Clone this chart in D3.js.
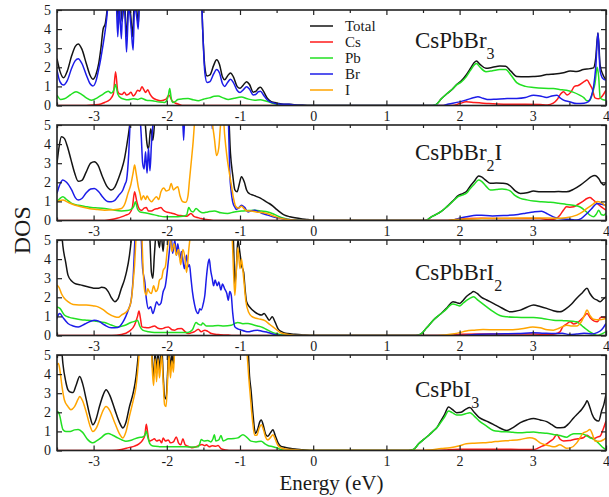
<!DOCTYPE html>
<html>
<head>
<meta charset="utf-8">
<script src="https://cdn.jsdelivr.net/npm/d3@7"></script>
<style>
  html, body { margin: 0; padding: 0; background: #fff; }
  svg { display: block; }
  text { font-family: "Liberation Serif", "Times New Roman", serif; fill: #1a1a1a; }
</style>
</head>
<body>
<svg id="chart" width="609" height="497"></svg>
<script>
// Projected density of states, energy in eV (VBM at 0), four halide compositions.

const xTicks = [-3, -2, -1, 0, 1, 2, 3, 4];
const xMinorTicks = [-3.5, -2.5, -1.5, -0.5, 0.5, 1.5, 2.5, 3.5];
const yTicks = [0, 1, 2, 3, 4, 5];
const seriesNames = ["Total", "Cs", "Pb", "Br", "I"];
const panelNames = ["CsPbBr3", "CsPbBr2I", "CsPbBrI2", "CsPbI3"];

// ---- CsPbBr3 ----
const br3Total = [[-3.5,2.45],[-3.46,1.8],[-3.41,1.45],[-3.36,1.8],[-3.30,2.6],[-3.25,3.1],[-3.21,3.22],[-3.16,2.95],[-3.10,2.2],[-3.05,1.6],[-3.01,1.38],[-2.97,1.6],[-2.93,2.2],[-2.90,3.0],[-2.87,4.0],[-2.84,4.3],[-2.81,5.2],[-2.78,6.5],[-2.72,7],[-2.68,6],[-2.66,4.2],[-2.64,5.6],[-2.61,4.4],[-2.58,5.6],[-2.55,3.6],[-2.52,5.5],[-2.49,4.6],[-2.47,3.6],[-2.44,5.6],[-2.41,5.0],[-2.39,4.2],[-2.37,6],[-2.3,7],[-1.6,7],[-1.53,6],[-1.51,4],[-1.48,2.0],[-1.45,1.55],[-1.41,1.6],[-1.36,2.1],[-1.32,2.4],[-1.28,2.15],[-1.24,1.5],[-1.21,1.35],[-1.17,1.55],[-1.13,1.7],[-1.09,1.5],[-1.04,1.0],[-1.0,0.9],[-0.96,1.05],[-0.91,1.25],[-0.87,1.1],[-0.82,0.7],[-0.78,0.75],[-0.75,0.9],[-0.72,0.95],[-0.68,0.75],[-0.63,0.4],[-0.58,0.22],[-0.53,0.16],[-0.47,0.1],[-0.40,0.07],[-0.33,0.07],[-0.25,0.04],[-0.15,0.02],[-0.05,0],[1.6,0],[1.67,0.03],[1.75,0.35],[1.83,0.63],[1.9,0.85],[1.96,1.1],[2.02,1.28],[2.09,1.6],[2.15,1.95],[2.2,2.25],[2.23,2.33],[2.28,2.15],[2.36,1.95],[2.45,2.0],[2.55,2.07],[2.63,2.05],[2.7,1.8],[2.78,1.52],[2.9,1.5],[3.01,1.52],[3.1,1.55],[3.19,1.62],[3.3,1.65],[3.42,1.72],[3.51,1.8],[3.6,1.78],[3.69,1.88],[3.78,1.93],[3.83,1.97],[3.86,2.5],[3.89,3.8],[3.92,2.1],[3.96,1.6],[4.0,1.35]];
const br3Cs = [[-3.5,0],[-3.1,0],[-3.0,0.03],[-2.9,0.08],[-2.85,0.16],[-2.78,0.3],[-2.73,0.6],[-2.70,1.77],[-2.67,0.75],[-2.64,0.6],[-2.61,0.58],[-2.58,0.7],[-2.55,0.55],[-2.52,0.6],[-2.49,0.7],[-2.46,0.5],[-2.43,0.6],[-2.40,0.8],[-2.37,0.75],[-2.34,0.98],[-2.31,0.8],[-2.29,0.68],[-2.26,0.82],[-2.23,0.6],[-2.19,0.4],[-2.14,0.3],[-2.08,0.25],[-2.01,0.33],[-1.97,0.55],[-1.93,0.25],[-1.88,0.12],[-1.83,0.06],[-1.78,0],[1.9,0],[2.0,0.1],[2.09,0.19],[2.2,0.16],[2.27,0.14],[2.4,0.1],[2.6,0.07],[2.9,0.07],[3.1,0.05],[3.2,0.03],[3.28,0.12],[3.33,0.3],[3.38,0.6],[3.42,0.72],[3.47,0.55],[3.52,0.7],[3.57,1.0],[3.62,1.05],[3.7,1.25],[3.74,1.33],[3.78,1.1],[3.81,0.89],[3.85,0.4],[3.9,0.35],[3.95,0.5],[4.0,0.8]];
const br3Pb = [[-3.5,0.55],[-3.45,0.32],[-3.4,0.35],[-3.32,0.55],[-3.24,0.72],[-3.17,0.6],[-3.1,0.4],[-3.03,0.28],[-2.95,0.4],[-2.87,0.6],[-2.80,0.75],[-2.76,0.65],[-2.72,0.85],[-2.70,1.1],[-2.67,0.6],[-2.63,0.4],[-2.58,0.33],[-2.53,0.3],[-2.46,0.35],[-2.40,0.32],[-2.35,0.38],[-2.28,0.28],[-2.2,0.25],[-2.1,0.18],[-2.03,0.16],[-1.98,0.5],[-1.96,0.89],[-1.94,0.4],[-1.92,0.16],[-1.88,0.22],[-1.85,0.31],[-1.78,0.35],[-1.71,0.37],[-1.64,0.3],[-1.57,0.25],[-1.5,0.33],[-1.42,0.4],[-1.35,0.48],[-1.30,0.5],[-1.23,0.4],[-1.16,0.31],[-1.08,0.38],[-0.98,0.44],[-0.9,0.35],[-0.8,0.28],[-0.72,0.3],[-0.66,0.25],[-0.58,0.15],[-0.53,0.09],[-0.45,0.03],[-0.38,0],[1.6,0],[1.67,0.03],[1.75,0.35],[1.83,0.63],[1.9,0.85],[1.96,1.08],[2.02,1.22],[2.09,1.5],[2.15,1.85],[2.2,2.12],[2.23,2.2],[2.28,2.0],[2.36,1.77],[2.45,1.82],[2.55,1.89],[2.63,1.88],[2.7,1.6],[2.78,1.2],[2.9,1.0],[3.01,0.94],[3.15,0.9],[3.28,0.89],[3.4,0.82],[3.46,0.8],[3.55,0.7],[3.64,0.54],[3.7,0.4],[3.74,0.25],[3.78,0.28],[3.82,0.7],[3.85,1.16],[3.88,2.0],[3.90,1.5],[3.92,0.4],[3.96,0.3],[4.0,0.28]];
const br3Br = [[-3.5,1.85],[-3.46,1.25],[-3.41,1.07],[-3.36,1.3],[-3.30,1.95],[-3.25,2.35],[-3.21,2.45],[-3.16,2.2],[-3.10,1.6],[-3.05,1.15],[-3.01,1.02],[-2.97,1.25],[-2.93,1.9],[-2.90,2.5],[-2.87,3.2],[-2.85,3.7],[-2.82,4.6],[-2.80,5.5],[-2.76,7],[-2.70,6.5],[-2.67,3.6],[-2.65,5.2],[-2.62,3.5],[-2.60,5.5],[-2.57,4.6],[-2.55,2.8],[-2.52,5.2],[-2.49,4.2],[-2.46,2.9],[-2.44,5.2],[-2.41,4.6],[-2.39,4.0],[-2.37,6],[-2.3,7],[-1.6,7],[-1.53,6],[-1.51,4],[-1.48,1.7],[-1.45,1.2],[-1.41,1.25],[-1.36,1.65],[-1.32,1.88],[-1.28,1.7],[-1.24,1.15],[-1.21,1.0],[-1.17,1.2],[-1.13,1.38],[-1.09,1.2],[-1.04,0.8],[-1.0,0.68],[-0.96,0.8],[-0.91,0.98],[-0.87,0.85],[-0.82,0.55],[-0.78,0.6],[-0.75,0.72],[-0.72,0.75],[-0.68,0.55],[-0.63,0.3],[-0.58,0.18],[-0.53,0.12],[-0.47,0.08],[-0.40,0.06],[-0.33,0.06],[-0.25,0.03],[-0.15,0.01],[-0.05,0],[1.75,0],[1.85,0.08],[2.0,0.19],[2.1,0.3],[2.2,0.42],[2.25,0.46],[2.32,0.38],[2.4,0.31],[2.5,0.33],[2.65,0.36],[2.78,0.37],[2.9,0.42],[3.01,0.54],[3.1,0.5],[3.19,0.42],[3.26,0.5],[3.33,0.54],[3.38,0.38],[3.42,0.28],[3.5,0.2],[3.6,0.1],[3.7,0.12],[3.76,0.2],[3.8,0.5],[3.83,0.98],[3.86,2.0],[3.89,3.79],[3.92,1.8],[3.96,1.4],[4.0,1.33]];

// ---- CsPbBr2I ----
const br2iTotal = [[-3.5,3.0],[-3.47,3.9],[-3.44,4.39],[-3.40,4.3],[-3.36,3.9],[-3.31,3.2],[-3.26,2.5],[-3.21,2.05],[-3.16,2.1],[-3.10,2.55],[-3.04,3.0],[-2.99,3.08],[-2.94,2.9],[-2.88,2.3],[-2.82,1.8],[-2.76,1.6],[-2.71,1.75],[-2.66,2.2],[-2.62,2.64],[-2.58,3.2],[-2.55,3.86],[-2.51,4.9],[-2.48,6],[-2.40,7],[-2.33,6],[-2.30,5.3],[-2.27,4.0],[-2.25,3.75],[-2.22,4.8],[-2.19,4.2],[-2.16,5.5],[-2.1,7],[-1.2,7],[-1.16,6],[-1.13,3.5],[-1.10,2.4],[-1.07,1.6],[-1.04,1.5],[-1.01,1.9],[-0.98,2.29],[-0.94,2.0],[-0.91,1.6],[-0.87,1.4],[-0.82,1.33],[-0.77,1.25],[-0.71,1.15],[-0.65,1.0],[-0.60,0.89],[-0.55,0.75],[-0.50,0.58],[-0.44,0.4],[-0.39,0.28],[-0.32,0.2],[-0.25,0.14],[-0.15,0.08],[-0.07,0.05],[0.0,0],[1.5,0],[1.55,0.02],[1.6,0.15],[1.67,0.3],[1.74,0.45],[1.82,0.7],[1.92,1.07],[1.98,1.3],[2.05,1.42],[2.1,1.55],[2.14,1.77],[2.2,2.05],[2.26,2.33],[2.30,2.28],[2.36,2.1],[2.42,1.95],[2.5,1.96],[2.58,1.95],[2.64,1.93],[2.69,1.82],[2.76,1.55],[2.83,1.42],[2.92,1.45],[3.01,1.54],[3.1,1.5],[3.24,1.5],[3.35,1.52],[3.46,1.5],[3.56,1.64],[3.65,1.85],[3.74,2.12],[3.8,2.3],[3.85,2.35],[3.9,2.2],[3.94,1.95],[3.97,1.86],[4.0,2.0]];
const br2iCs = [[-3.5,0],[-2.85,0],[-2.76,0.05],[-2.68,0.12],[-2.62,0.19],[-2.56,0.28],[-2.51,0.37],[-2.47,0.7],[-2.44,1.5],[-2.41,1.0],[-2.39,0.72],[-2.36,0.55],[-2.34,0.54],[-2.31,0.65],[-2.28,0.68],[-2.25,0.5],[-2.21,0.5],[-2.17,0.58],[-2.12,0.63],[-2.08,0.68],[-2.05,0.55],[-2.01,0.45],[-1.95,0.4],[-1.90,0.35],[-1.85,0.28],[-1.79,0.25],[-1.73,0.22],[-1.67,0.37],[-1.63,0.22],[-1.58,0.16],[-1.53,0.1],[-1.46,0.05],[-1.40,0.02],[-1.35,0],[1.8,0],[1.95,0.05],[2.1,0.1],[2.3,0.12],[2.6,0.1],[2.9,0.1],[3.1,0.1],[3.2,0.05],[3.28,0.06],[3.37,0.28],[3.42,0.55],[3.46,0.72],[3.51,0.7],[3.56,0.72],[3.62,0.85],[3.69,1.02],[3.74,1.15],[3.78,1.2],[3.82,1.1],[3.88,0.89],[3.94,0.7],[4.0,0.54]];
const br2iPb = [[-3.5,0.98],[-3.46,1.15],[-3.42,1.24],[-3.37,1.1],[-3.30,0.9],[-3.21,0.8],[-3.12,0.74],[-3.03,0.68],[-2.94,0.66],[-2.85,0.63],[-2.74,0.56],[-2.62,0.5],[-2.54,0.52],[-2.49,0.58],[-2.45,0.75],[-2.43,0.98],[-2.40,0.6],[-2.37,0.45],[-2.30,0.4],[-2.21,0.33],[-2.12,0.25],[-2.03,0.19],[-1.94,0.2],[-1.85,0.2],[-1.78,0.22],[-1.73,0.28],[-1.70,0.68],[-1.67,0.5],[-1.64,0.45],[-1.60,0.63],[-1.56,0.5],[-1.51,0.4],[-1.44,0.45],[-1.35,0.5],[-1.26,0.4],[-1.17,0.37],[-1.08,0.45],[-0.98,0.5],[-0.89,0.52],[-0.80,0.54],[-0.71,0.5],[-0.62,0.45],[-0.55,0.35],[-0.48,0.23],[-0.40,0.12],[-0.35,0.07],[-0.25,0.02],[-0.15,0],[1.5,0],[1.55,0.02],[1.6,0.15],[1.67,0.3],[1.74,0.45],[1.82,0.7],[1.92,1.05],[1.98,1.25],[2.05,1.35],[2.1,1.45],[2.14,1.65],[2.2,1.9],[2.26,2.12],[2.30,2.05],[2.36,1.8],[2.42,1.6],[2.5,1.62],[2.58,1.65],[2.64,1.62],[2.69,1.55],[2.76,1.3],[2.83,1.16],[2.92,1.08],[3.01,1.02],[3.12,0.98],[3.24,0.95],[3.35,0.9],[3.46,0.84],[3.55,0.8],[3.64,0.72],[3.72,0.5],[3.78,0.28],[3.83,0.19],[3.87,0.35],[3.90,0.54],[3.94,0.3],[3.97,0.28],[4.0,0.4]];
const br2iBr = [[-3.5,1.42],[-3.46,1.9],[-3.42,2.12],[-3.37,2.0],[-3.30,1.6],[-3.25,1.2],[-3.21,1.07],[-3.16,1.15],[-3.10,1.45],[-3.04,1.65],[-2.99,1.68],[-2.93,1.5],[-2.87,1.2],[-2.81,1.0],[-2.76,0.98],[-2.71,1.05],[-2.66,1.3],[-2.60,1.6],[-2.57,1.9],[-2.55,2.12],[-2.52,3.5],[-2.50,5.2],[-2.45,7],[-2.38,6],[-2.35,4.5],[-2.33,3.0],[-2.31,2.7],[-2.29,3.6],[-2.27,2.47],[-2.25,3.8],[-2.23,2.6],[-2.21,4.0],[-2.18,5.5],[-2.15,7],[-1.80,7],[-1.77,4.2],[-1.74,7],[-1.40,7],[-1.38,4.8],[-1.36,6],[-1.3,7],[-1.18,7],[-1.16,5.5],[-1.14,2.5],[-1.12,1.5],[-1.10,0.98],[-1.07,0.7],[-1.05,0.58],[-1.02,0.65],[-0.98,0.8],[-0.94,0.7],[-0.89,0.45],[-0.85,0.5],[-0.80,0.54],[-0.74,0.45],[-0.68,0.35],[-0.62,0.28],[-0.55,0.2],[-0.48,0.14],[-0.40,0.08],[-0.33,0.05],[-0.22,0.01],[-0.15,0],[1.85,0],[1.92,0.03],[2.0,0.12],[2.1,0.2],[2.23,0.28],[2.3,0.27],[2.45,0.24],[2.6,0.26],[2.8,0.32],[2.9,0.38],[3.01,0.45],[3.12,0.49],[3.2,0.35],[3.28,0.19],[3.36,0.1],[3.46,0.07],[3.55,0.04],[3.6,0.02],[3.66,0.1],[3.74,0.37],[3.8,0.6],[3.88,0.89],[3.94,0.85],[4.0,0.8]];
const br2iI = [[-3.5,0.98],[-3.46,1.05],[-3.42,1.07],[-3.35,0.95],[-3.25,0.8],[-3.17,0.72],[-3.05,0.62],[-2.95,0.58],[-2.85,0.54],[-2.74,0.56],[-2.62,0.63],[-2.57,0.9],[-2.53,1.42],[-2.49,1.9],[-2.46,2.5],[-2.44,2.9],[-2.42,2.5],[-2.39,1.77],[-2.36,1.3],[-2.35,1.07],[-2.32,1.3],[-2.29,1.1],[-2.27,1.28],[-2.24,1.1],[-2.21,0.98],[-2.18,1.1],[-2.14,1.25],[-2.11,1.1],[-2.08,1.5],[-2.04,1.7],[-2.01,1.55],[-1.97,1.6],[-1.94,1.94],[-1.91,1.6],[-1.88,1.7],[-1.85,1.77],[-1.82,1.3],[-1.78,0.98],[-1.74,0.95],[-1.71,1.3],[-1.69,2.12],[-1.66,3.3],[-1.64,4.13],[-1.62,5.2],[-1.58,7],[-1.42,7],[-1.38,5.2],[-1.35,4.3],[-1.32,3.4],[-1.29,3.8],[-1.26,5.2],[-1.23,5.5],[-1.21,4.5],[-1.18,3.4],[-1.15,2.6],[-1.12,1.9],[-1.09,1.2],[-1.06,0.75],[-1.02,0.65],[-0.98,0.75],[-0.94,0.6],[-0.90,0.5],[-0.85,0.5],[-0.78,0.45],[-0.70,0.42],[-0.62,0.35],[-0.55,0.25],[-0.48,0.15],[-0.40,0.08],[-0.30,0.03],[-0.2,0],[1.8,0],[1.95,0.05],[2.1,0.08],[2.3,0.1],[2.6,0.12],[2.9,0.13],[3.1,0.13],[3.3,0.12],[3.45,0.15],[3.6,0.28],[3.68,0.45],[3.74,0.63],[3.82,0.85],[3.88,1.0],[3.93,0.95],[4.0,0.75]];

// ---- CsPbBrI2 ----
const bri2Total = [[-3.5,7],[-3.45,6],[-3.42,4.7],[-3.38,3.8],[-3.35,3.16],[-3.30,2.85],[-3.26,2.73],[-3.18,2.65],[-3.08,2.55],[-3.0,2.48],[-2.94,2.47],[-2.89,2.52],[-2.85,2.5],[-2.80,2.3],[-2.76,2.0],[-2.71,1.77],[-2.67,1.9],[-2.62,2.47],[-2.58,2.9],[-2.55,3.34],[-2.51,4.2],[-2.48,5.2],[-2.44,7],[-2.26,7],[-2.23,5],[-2.21,3.3],[-2.19,3.0],[-2.17,4.2],[-2.14,5.5],[-2.10,4.6],[-2.08,5.4],[-2.05,4.4],[-2.03,5.5],[-2.0,7],[-1.12,7],[-1.09,5],[-1.07,2.7],[-1.05,3.5],[-1.03,5.0],[-1.0,4.3],[-0.98,3.7],[-0.95,3.3],[-0.93,2.4],[-0.91,1.77],[-0.86,1.45],[-0.80,1.24],[-0.75,1.12],[-0.71,1.07],[-0.67,1.15],[-0.63,0.95],[-0.60,0.8],[-0.56,0.98],[-0.52,0.7],[-0.48,0.35],[-0.42,0.18],[-0.35,0.1],[-0.25,0.06],[-0.16,0.04],[-0.05,0],[1.4,0],[1.46,0.05],[1.55,0.4],[1.64,0.8],[1.73,1.1],[1.82,1.42],[1.87,1.65],[1.91,1.77],[1.96,1.72],[2.0,1.68],[2.05,1.85],[2.09,2.03],[2.15,2.2],[2.19,2.3],[2.24,2.2],[2.3,2.0],[2.37,1.86],[2.46,1.68],[2.55,1.5],[2.62,1.35],[2.69,1.24],[2.76,1.27],[2.83,1.33],[2.92,1.48],[3.01,1.6],[3.1,1.52],[3.19,1.42],[3.28,1.3],[3.37,1.24],[3.46,1.42],[3.53,1.65],[3.6,1.95],[3.68,2.25],[3.74,2.47],[3.78,2.2],[3.83,1.95],[3.88,1.85],[3.92,1.77],[3.96,1.9],[4.0,2.03]];
const bri2Cs = [[-3.5,0],[-2.75,0],[-2.62,0.05],[-2.51,0.23],[-2.44,0.55],[-2.40,1.0],[-2.38,1.28],[-2.36,0.9],[-2.34,0.45],[-2.30,0.42],[-2.26,0.4],[-2.21,0.45],[-2.17,0.5],[-2.12,0.38],[-2.07,0.35],[-2.02,0.42],[-1.98,0.45],[-1.93,0.3],[-1.89,0.28],[-1.85,0.35],[-1.80,0.37],[-1.75,0.2],[-1.71,0.1],[-1.66,0.15],[-1.62,0.2],[-1.57,0.33],[-1.53,0.2],[-1.48,0.28],[-1.44,0.22],[-1.39,0.1],[-1.3,0.05],[-1.16,0.02],[-1.1,0],[1.8,0],[1.9,0.03],[2.0,0.06],[2.3,0.08],[2.7,0.08],[3.0,0.08],[3.2,0.05],[3.3,0.08],[3.37,0.19],[3.41,0.45],[3.46,0.6],[3.51,0.72],[3.56,0.6],[3.62,0.7],[3.69,0.95],[3.74,1.15],[3.79,0.9],[3.84,0.75],[3.88,0.72],[3.93,0.95],[4.0,0.95]];
const bri2Pb = [[-3.5,1.5],[-3.46,1.42],[-3.40,1.07],[-3.33,0.95],[-3.26,0.89],[-3.17,0.83],[-3.08,0.8],[-2.96,0.74],[-2.85,0.68],[-2.76,0.55],[-2.67,0.45],[-2.58,0.52],[-2.49,0.68],[-2.43,0.75],[-2.40,0.8],[-2.37,0.5],[-2.33,0.28],[-2.25,0.2],[-2.17,0.16],[-2.05,0.16],[-1.94,0.16],[-1.80,0.16],[-1.71,0.16],[-1.65,0.3],[-1.60,0.68],[-1.57,0.6],[-1.53,0.55],[-1.51,0.65],[-1.46,0.5],[-1.39,0.5],[-1.30,0.52],[-1.22,0.5],[-1.12,0.54],[-1.06,0.65],[-1.03,0.68],[-0.96,0.62],[-0.89,0.63],[-0.82,0.56],[-0.76,0.5],[-0.69,0.42],[-0.62,0.28],[-0.55,0.15],[-0.48,0.08],[-0.40,0.02],[-0.3,0],[1.4,0],[1.46,0.05],[1.55,0.4],[1.64,0.8],[1.73,1.1],[1.82,1.38],[1.87,1.58],[1.91,1.65],[1.96,1.6],[2.0,1.55],[2.05,1.7],[2.1,1.85],[2.15,1.97],[2.19,2.03],[2.25,1.85],[2.37,1.5],[2.46,1.25],[2.55,1.05],[2.65,0.98],[2.78,0.95],[2.9,0.94],[3.01,0.94],[3.15,0.88],[3.28,0.8],[3.4,0.78],[3.46,0.77],[3.55,0.74],[3.6,0.72],[3.65,0.58],[3.69,0.45],[3.74,0.3],[3.78,0.19],[3.83,0.08],[3.88,0],[3.95,0.1],[4.0,0.2]];
const bri2Br = [[-3.5,0.89],[-3.48,1.1],[-3.46,1.15],[-3.42,0.95],[-3.35,0.63],[-3.28,0.5],[-3.21,0.45],[-3.12,0.6],[-3.04,0.75],[-2.99,0.8],[-2.93,0.75],[-2.85,0.55],[-2.76,0.4],[-2.67,0.42],[-2.60,0.7],[-2.56,1.0],[-2.52,1.4],[-2.49,1.77],[-2.46,3.0],[-2.43,5.5],[-2.4,7],[-2.36,6],[-2.33,3.5],[-2.30,2.8],[-2.28,1.94],[-2.25,1.4],[-2.22,1.5],[-2.19,1.15],[-2.16,1.5],[-2.14,1.77],[-2.11,1.6],[-2.08,1.7],[-2.05,2.29],[-2.02,2.6],[-1.98,3.86],[-1.96,4.6],[-1.94,5.2],[-1.92,4.3],[-1.89,5.0],[-1.87,4.2],[-1.85,4.8],[-1.82,4.0],[-1.80,4.4],[-1.76,3.5],[-1.73,4.2],[-1.71,3.6],[-1.69,3.7],[-1.67,3.0],[-1.65,2.3],[-1.62,1.6],[-1.60,1.3],[-1.57,1.15],[-1.55,1.4],[-1.53,1.33],[-1.50,1.7],[-1.48,2.12],[-1.46,3.0],[-1.44,3.69],[-1.42,4.0],[-1.40,3.4],[-1.38,3.0],[-1.36,2.6],[-1.34,2.9],[-1.31,2.6],[-1.29,2.8],[-1.26,2.38],[-1.24,2.7],[-1.21,2.45],[-1.18,2.2],[-1.16,1.85],[-1.14,2.3],[-1.12,2.12],[-1.10,1.2],[-1.07,0.45],[-1.03,0.35],[-0.98,0.28],[-0.93,0.22],[-0.89,0.19],[-0.82,0.25],[-0.76,0.28],[-0.70,0.22],[-0.62,0.16],[-0.55,0.08],[-0.5,0.03],[-0.4,0],[2.0,0],[2.2,0.05],[2.5,0.08],[2.8,0.1],[3.0,0.15],[3.15,0.12],[3.3,0.1],[3.4,0.12],[3.5,0.05],[3.6,0.08],[3.7,0.12],[3.8,0.08],[3.88,0.15],[3.94,0.3],[4.0,0.63]];
const bri2I = [[-3.5,2.64],[-3.47,2.5],[-3.44,2.2],[-3.40,1.95],[-3.35,1.77],[-3.28,1.62],[-3.2,1.6],[-3.1,1.6],[-3.0,1.55],[-2.94,1.5],[-2.87,1.35],[-2.80,1.15],[-2.71,0.98],[-2.66,0.95],[-2.62,1.07],[-2.55,1.24],[-2.50,1.6],[-2.48,2.0],[-2.46,2.8],[-2.44,3.7],[-2.42,5.2],[-2.40,7],[-2.35,6],[-2.32,3.2],[-2.30,2.3],[-2.28,2.12],[-2.26,2.45],[-2.24,2.3],[-2.21,2.2],[-2.18,2.6],[-2.15,2.3],[-2.12,2.5],[-2.10,2.9],[-2.07,3.0],[-2.05,3.4],[-2.02,3.6],[-1.99,4.6],[-1.96,5.4],[-1.93,4.4],[-1.90,4.8],[-1.87,4.2],[-1.84,4.5],[-1.81,3.7],[-1.78,4.5],[-1.75,4.0],[-1.73,3.3],[-1.70,4.5],[-1.67,5.5],[-1.6,7],[-1.14,7],[-1.11,5.5],[-1.09,3.5],[-1.07,2.1],[-1.05,3.4],[-1.03,4.6],[-1.0,3.5],[-0.98,4.0],[-0.95,3.0],[-0.92,1.8],[-0.88,1.2],[-0.84,1.0],[-0.78,0.9],[-0.72,0.85],[-0.66,0.78],[-0.60,0.6],[-0.55,0.45],[-0.50,0.3],[-0.45,0.15],[-0.38,0.08],[-0.3,0.03],[-0.2,0],[1.7,0],[1.8,0.03],[1.9,0.08],[2.0,0.15],[2.09,0.24],[2.2,0.28],[2.32,0.31],[2.5,0.3],[2.7,0.3],[2.85,0.35],[3.0,0.45],[3.1,0.4],[3.2,0.3],[3.28,0.28],[3.36,0.38],[3.46,0.54],[3.52,0.5],[3.6,0.5],[3.66,0.7],[3.71,1.1],[3.74,1.33],[3.78,1.05],[3.83,0.85],[3.9,0.82],[4.0,0.89]];

// ---- CsPbI3 ----
const i3Total = [[-3.5,7],[-3.45,6],[-3.42,4.57],[-3.38,3.6],[-3.35,3.18],[-3.31,3.05],[-3.28,3.04],[-3.24,3.4],[-3.19,3.87],[-3.15,3.5],[-3.10,2.66],[-3.05,1.8],[-3.01,1.35],[-2.97,1.6],[-2.92,2.3],[-2.87,2.9],[-2.83,3.18],[-2.78,2.9],[-2.71,2.14],[-2.65,1.5],[-2.60,1.18],[-2.56,1.45],[-2.51,2.3],[-2.46,3.0],[-2.42,3.87],[-2.39,5.0],[-2.35,7],[-2.22,7],[-2.20,4.8],[-2.18,3.8],[-2.16,5.2],[-2.14,4.0],[-2.12,5.2],[-2.10,4.2],[-2.07,5.5],[-2.05,4.0],[-2.03,2.8],[-2.01,2.7],[-1.99,4.0],[-1.97,5.5],[-1.95,4.2],[-1.93,5.0],[-1.91,4.5],[-1.89,6],[-1.85,7],[-0.92,7],[-0.89,5.5],[-0.87,3.9],[-0.85,3.18],[-0.82,1.8],[-0.79,0.9],[-0.76,1.1],[-0.73,1.5],[-0.71,1.6],[-0.68,1.3],[-0.65,0.85],[-0.62,0.75],[-0.58,0.95],[-0.55,1.09],[-0.52,0.8],[-0.48,0.4],[-0.44,0.22],[-0.39,0.17],[-0.32,0.12],[-0.25,0.08],[-0.15,0.04],[-0.05,0],[1.3,0],[1.37,0.05],[1.44,0.35],[1.51,0.58],[1.58,0.8],[1.64,1.02],[1.69,1.2],[1.73,1.46],[1.79,1.85],[1.85,2.28],[1.9,2.15],[1.96,1.98],[2.02,2.0],[2.08,2.15],[2.14,2.25],[2.2,2.0],[2.27,1.72],[2.36,1.55],[2.46,1.37],[2.55,1.18],[2.64,1.05],[2.73,1.2],[2.83,1.46],[2.92,1.6],[3.01,1.68],[3.1,1.6],[3.19,1.51],[3.26,1.35],[3.33,1.19],[3.42,1.2],[3.49,1.4],[3.56,1.72],[3.62,1.95],[3.67,2.16],[3.72,2.45],[3.74,2.6],[3.78,2.25],[3.81,1.9],[3.85,1.63],[3.9,1.54],[3.94,2.07],[3.97,2.4],[4.0,2.95]];
const i3Cs = [[-3.5,0],[-2.75,0],[-2.62,0.05],[-2.52,0.15],[-2.44,0.23],[-2.38,0.35],[-2.34,0.49],[-2.30,0.8],[-2.28,1.37],[-2.26,0.9],[-2.24,0.49],[-2.20,0.55],[-2.17,0.61],[-2.14,0.5],[-2.10,0.55],[-2.07,0.4],[-2.05,0.66],[-2.02,0.5],[-1.98,0.55],[-1.95,0.4],[-1.91,0.45],[-1.87,0.71],[-1.84,0.4],[-1.81,0.3],[-1.78,0.61],[-1.75,0.3],[-1.71,0.22],[-1.66,0.15],[-1.60,0.2],[-1.55,0.28],[-1.52,0.31],[-1.48,0.25],[-1.46,0.3],[-1.42,0.2],[-1.38,0.25],[-1.33,0.22],[-1.30,0.26],[-1.26,0.1],[-1.2,0.03],[-1.15,0],[1.7,0],[1.85,0.04],[2.0,0.06],[2.3,0.07],[2.7,0.06],[3.0,0.05],[3.06,0.1],[3.1,0.18],[3.17,0.3],[3.24,0.49],[3.28,0.6],[3.33,0.84],[3.37,0.6],[3.42,0.5],[3.5,0.52],[3.56,0.58],[3.62,0.62],[3.69,0.67],[3.74,0.8],[3.78,0.7],[3.83,0.62],[3.88,0.7],[3.92,0.75],[3.96,1.1],[4.0,1.54]];
const i3Pb = [[-3.5,2.05],[-3.48,2.0],[-3.46,1.79],[-3.44,1.4],[-3.42,1.1],[-3.38,1.0],[-3.32,1.0],[-3.26,1.08],[-3.21,1.1],[-3.15,0.95],[-3.08,0.57],[-3.03,0.42],[-3.01,0.4],[-2.96,0.5],[-2.9,0.66],[-2.84,0.85],[-2.8,0.89],[-2.74,0.8],[-2.67,0.66],[-2.61,0.55],[-2.56,0.49],[-2.50,0.52],[-2.44,0.61],[-2.38,0.68],[-2.33,0.71],[-2.30,0.8],[-2.28,1.02],[-2.26,0.7],[-2.23,0.35],[-2.19,0.23],[-2.1,0.2],[-2.03,0.19],[-1.92,0.2],[-1.80,0.2],[-1.68,0.18],[-1.57,0.19],[-1.55,0.35],[-1.53,0.57],[-1.49,0.5],[-1.44,0.52],[-1.40,0.45],[-1.37,0.6],[-1.35,0.83],[-1.33,0.5],[-1.29,0.55],[-1.26,0.78],[-1.23,0.5],[-1.16,0.61],[-1.08,0.63],[-1.03,0.66],[-0.96,0.83],[-0.91,0.7],[-0.85,0.49],[-0.78,0.45],[-0.71,0.49],[-0.66,0.35],[-0.62,0.26],[-0.55,0.2],[-0.5,0.15],[-0.44,0.05],[-0.38,0],[1.3,0],[1.37,0.05],[1.44,0.35],[1.51,0.58],[1.58,0.8],[1.64,1.02],[1.69,1.2],[1.73,1.4],[1.79,1.72],[1.85,2.07],[1.9,1.98],[1.96,1.86],[2.02,1.86],[2.08,1.92],[2.14,1.98],[2.2,1.8],[2.27,1.54],[2.36,1.3],[2.46,1.05],[2.55,1.0],[2.64,0.98],[2.73,0.95],[2.83,0.93],[2.92,0.95],[3.01,0.97],[3.1,0.93],[3.19,0.9],[3.28,0.84],[3.37,0.78],[3.46,0.7],[3.51,0.8],[3.56,0.88],[3.62,0.88],[3.67,0.88],[3.72,0.8],[3.78,0.67],[3.83,0.6],[3.87,0.49],[3.92,0.3],[3.96,0.15],[4.0,0.05]];
const i3I = [[-3.5,4.48],[-3.48,4.55],[-3.46,4.2],[-3.43,3.3],[-3.40,2.66],[-3.35,2.3],[-3.31,2.14],[-3.26,2.3],[-3.21,2.7],[-3.19,2.83],[-3.15,2.6],[-3.10,2.0],[-3.05,1.3],[-3.01,1.0],[-2.96,1.2],[-2.91,1.7],[-2.87,2.1],[-2.83,2.3],[-2.78,2.1],[-2.71,1.44],[-2.65,0.9],[-2.60,0.66],[-2.56,0.95],[-2.51,1.8],[-2.46,2.6],[-2.42,3.35],[-2.39,4.5],[-2.36,6],[-2.3,7],[-2.22,7],[-2.20,4.4],[-2.18,3.4],[-2.16,4.8],[-2.14,3.6],[-2.12,4.8],[-2.10,3.8],[-2.07,5.0],[-2.05,3.6],[-2.03,2.4],[-2.01,2.3],[-1.99,3.6],[-1.97,5.0],[-1.95,3.8],[-1.93,4.7],[-1.91,4.1],[-1.89,5.5],[-1.85,7],[-0.94,7],[-0.91,5.5],[-0.88,3.8],[-0.86,2.9],[-0.83,1.6],[-0.80,0.8],[-0.77,0.8],[-0.74,1.15],[-0.71,1.35],[-0.68,1.1],[-0.65,0.7],[-0.62,0.55],[-0.58,0.7],[-0.55,0.83],[-0.52,0.6],[-0.48,0.26],[-0.43,0.12],[-0.38,0.08],[-0.3,0.05],[-0.2,0.02],[-0.1,0],[1.5,0],[1.6,0.03],[1.75,0.1],[1.87,0.14],[2.0,0.25],[2.09,0.35],[2.2,0.38],[2.32,0.4],[2.45,0.45],[2.55,0.49],[2.7,0.53],[2.83,0.58],[2.96,0.67],[3.03,0.6],[3.1,0.4],[3.17,0.3],[3.24,0.23],[3.3,0.2],[3.37,0.3],[3.42,0.2],[3.46,0.12],[3.52,0.15],[3.6,0.4],[3.65,0.7],[3.69,0.93],[3.74,1.0],[3.78,1.1],[3.81,0.9],[3.85,0.5],[3.92,0.49],[3.96,0.55],[4.0,0.67]];

// ---- layout and drawing ----
const colors = { Total: "#141414", Cs: "#ff1a1a", Pb: "#22e022", Br: "#1c1ce8", I: "#ffa500" };

const panels = [
  { name: panelNames[0], base: "CsPbBr", sub: "3", tail: "", titleY: 38,
    series: { Total: br3Total, Cs: br3Cs, Pb: br3Pb, Br: br3Br } },
  { name: panelNames[1], base: "CsPbBr", sub: "2", tail: "I", titleY: 35,
    series: { Total: br2iTotal, Cs: br2iCs, Pb: br2iPb, Br: br2iBr, I: br2iI } },
  { name: panelNames[2], base: "CsPbBrI", sub: "2", tail: "", titleY: 40,
    series: { Total: bri2Total, Cs: bri2Cs, Pb: bri2Pb, Br: bri2Br, I: bri2I } },
  { name: panelNames[3], base: "CsPbI", sub: "3", tail: "", titleY: 42,
    series: { Total: i3Total, Cs: i3Cs, Pb: i3Pb, I: i3I } }
];

const svg = d3.select("#chart");
svg.append("rect").attr("width", 609).attr("height", 497).attr("fill", "#fff");

const left = 57, right = 606, panelH = 95.5, firstTop = 10, step = 115;
const x = d3.scaleLinear().domain([-3.5, 4]).range([left, right]);
const y = d3.scaleLinear().domain([0, 5]).range([panelH, 0]);

const line = d3.line()
  .x(d => x(d[0]))
  .y(d => y(d[1]))
  .curve(d3.curveMonotoneX);

const defs = svg.append("defs");
defs.append("clipPath").attr("id", "plotClip")
  .append("rect").attr("x", left).attr("y", 0)
  .attr("width", right - left).attr("height", panelH);

const drawOrder = ["Total", "Cs", "Pb", "Br", "I"];

panels.forEach((p, i) => {
  const g = svg.append("g").attr("transform", `translate(0,${firstTop + i * step})`);

  const curves = g.append("g").attr("clip-path", "url(#plotClip)");
  drawOrder.forEach(k => {
    if (!p.series[k]) return;
    curves.append("path")
      .datum(p.series[k])
      .attr("fill", "none")
      .attr("stroke", colors[k])
      .attr("stroke-width", 1.5)
      .attr("stroke-linejoin", "round")
      .attr("d", line);
  });

  // inward major / minor ticks on all four sides
  g.append("g").attr("transform", `translate(0,${panelH})`)
    .call(d3.axisBottom(x).tickValues(xTicks).tickSize(-5).tickPadding(6)
      .tickFormat(d => d < 0 ? "-" + Math.abs(d) : String(d)));
  g.append("g").attr("transform", `translate(0,${panelH})`)
    .call(d3.axisBottom(x).tickValues(xMinorTicks).tickSize(-3).tickFormat(""));
  g.append("g")
    .call(d3.axisTop(x).tickValues(xTicks).tickSize(-5).tickFormat(""));
  g.append("g")
    .call(d3.axisTop(x).tickValues(xMinorTicks).tickSize(-3).tickFormat(""));
  g.append("g").attr("transform", `translate(${left},0)`)
    .call(d3.axisLeft(y).tickValues(yTicks).tickSize(-5).tickPadding(6).tickFormat(d3.format("d")));
  g.append("g").attr("transform", `translate(${right},0)`)
    .call(d3.axisRight(y).tickValues(yTicks).tickSize(-5).tickFormat(""));

  g.selectAll(".domain").remove();
  g.selectAll(".tick line").attr("stroke", "#222").attr("stroke-width", 1.2);
  g.selectAll(".tick text")
    .attr("font-family", "Liberation Serif, serif")
    .attr("font-size", 14).attr("fill", "#1a1a1a");

  g.append("rect")
    .attr("x", left).attr("y", 0)
    .attr("width", right - left).attr("height", panelH)
    .attr("fill", "none").attr("stroke", "#222").attr("stroke-width", 1.6);

  // compound name with subscript
  const t = g.append("text")
    .attr("x", 415).attr("y", p.titleY)
    .attr("font-size", 23);
  t.append("tspan").text(p.base);
  t.append("tspan").attr("dy", 11).attr("font-size", 16).text(p.sub);
  if (p.tail) t.append("tspan").attr("dy", -11).text(p.tail);
});

// legend (top panel)
const legend = svg.append("g").attr("transform", `translate(0,${firstTop})`);
seriesNames.forEach((name, i) => {
  const ly = 16 + i * 16;
  legend.append("line")
    .attr("x1", 310).attr("x2", 333).attr("y1", ly).attr("y2", ly)
    .attr("stroke", colors[name]).attr("stroke-width", 1.5);
  legend.append("text")
    .attr("x", 345).attr("y", ly + 5)
    .attr("font-size", 15).text(name);
});

// axis titles
svg.append("text")
  .attr("x", (left + right) / 2).attr("y", 490)
  .attr("text-anchor", "middle").attr("font-size", 21)
  .text("Energy (eV)");
svg.append("text")
  .attr("transform", `translate(30,${(firstTop + 3 * step + panelH + firstTop) / 2}) rotate(-90)`)
  .attr("text-anchor", "middle").attr("font-size", 24)
  .text("DOS");
</script>
</body>
</html>
